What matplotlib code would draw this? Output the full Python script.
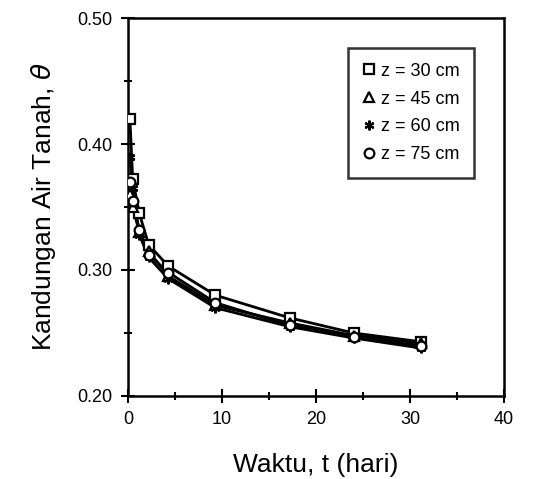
import matplotlib.pyplot as plt
from matplotlib.ticker import MultipleLocator

plt.rcParams['font.family'] = ['Liberation Sans', 'DejaVu Sans']

# time in days
t = [0.2, 0.5, 1.2, 2.2, 4.3, 9.3, 17.2, 24.0, 31.2]

# soil water content per depth
z30 = [0.420, 0.372, 0.345, 0.320, 0.303, 0.280, 0.262, 0.250, 0.243]
z45 = [0.360, 0.350, 0.330, 0.315, 0.295, 0.272, 0.258, 0.248, 0.242]
z60 = [0.390, 0.365, 0.328, 0.310, 0.293, 0.270, 0.255, 0.246, 0.238]
z75 = [0.370, 0.355, 0.332, 0.312, 0.298, 0.274, 0.256, 0.247, 0.240]

labels = ["z = 30 cm", "z = 45 cm", "z = 60 cm", "z = 75 cm"]
markers = ["s", "^", (6, 2, 0), "o"]

fig = plt.figure(figsize=(5.6, 4.79), dpi=100)
ax = fig.add_axes([0.2286, 0.1733, 0.6714, 0.7891])

for y, lab, m in zip([z30, z45, z60, z75], labels, markers):
    ax.plot(t, y, color="black", lw=2.0, zorder=2)
    ax.plot(t, y, linestyle="none", marker=m, ms=7, mfc="white",
            mec="black", mew=1.6, label=lab, zorder=3)

ax.set_xlim(0, 40)
ax.set_ylim(0.20, 0.50)
ax.xaxis.set_major_locator(MultipleLocator(10))
ax.xaxis.set_minor_locator(MultipleLocator(5))
ax.yaxis.set_major_locator(MultipleLocator(0.10))
ax.yaxis.set_minor_locator(MultipleLocator(0.05))
ax.yaxis.set_major_formatter(plt.FormatStrFormatter("%.2f"))
ax.tick_params(which="major", direction="inout", length=10, width=1.5,
               labelsize=13, pad=6)
ax.tick_params(which="minor", direction="inout", length=6, width=1.5)
for s in ax.spines.values():
    s.set_linewidth(1.8)

ax.set_xlabel("Waktu, t (hari)", fontsize=19, labelpad=18)
ax.set_ylabel(r"Kandungan Air Tanah, $\theta$", fontsize=19, labelpad=14)

leg = ax.legend(loc="upper right", bbox_to_anchor=(0.92, 0.92), fontsize=13,
                frameon=True, fancybox=False, edgecolor="black",
                handlelength=0.7, handletextpad=0.3, labelspacing=0.6,
                borderpad=0.8, borderaxespad=0)
leg.get_frame().set_linewidth(1.8)

fig.savefig("out.png", dpi=100)
